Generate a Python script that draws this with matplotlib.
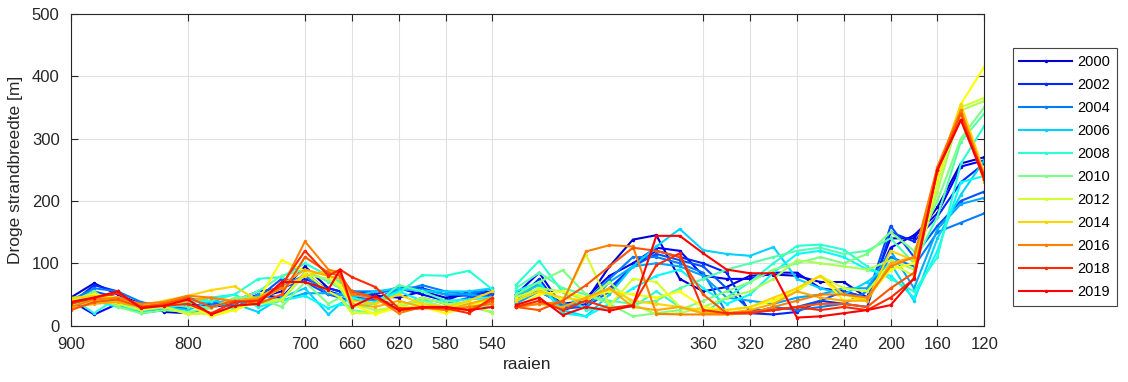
import numpy as np
import matplotlib
matplotlib.use("Agg")
import matplotlib.pyplot as plt

# raai positions (NaN gap at 530)
raai_left = [900, 880, 860, 840, 820, 800, 780, 760, 740, 720, 700, 680, 670, 660, 640, 620, 600, 580, 560, 540]
raai_gap = [530]
raai_right = [520, 500, 480, 460, 440, 420, 400, 380, 360, 340, 320, 300, 280, 260, 240, 220, 200, 180, 160, 140, 120]

years = list(range(2000, 2020))
legend_years = [2000, 2002, 2004, 2006, 2008, 2010, 2012, 2014, 2016, 2018, 2019]

x_ticks = [900, 800, 700, 660, 620, 580, 540, 360, 320, 280, 240, 200, 160, 120]
y_ticks = [0, 100, 200, 300, 400, 500]

# dry beach width [m], left section (900 -> 540)
left_2000 = [45, 68, 50, 35, 22, 20, 30, 40, 45, 55, 95, 60, 55, 50, 48, 45, 55, 45, 50, 55]
left_2001 = [40, 18, 35, 22, 25, 35, 30, 35, 50, 45, 85, 55, 50, 45, 42, 60, 50, 40, 55, 52]
left_2002 = [35, 65, 55, 25, 28, 30, 35, 40, 55, 60, 75, 60, 55, 55, 50, 62, 60, 50, 48, 55]
left_2003 = [42, 55, 45, 35, 30, 28, 40, 30, 45, 75, 70, 50, 45, 40, 45, 30, 45, 35, 45, 50]
left_2004 = [40, 60, 55, 38, 30, 45, 35, 30, 45, 65, 80, 50, 50, 55, 55, 55, 65, 55, 50, 60]
left_2005 = [30, 45, 35, 20, 25, 40, 45, 25, 50, 40, 52, 52, 50, 45, 40, 58, 58, 50, 50, 45]
left_2006 = [38, 50, 40, 22, 30, 25, 40, 35, 22, 45, 60, 18, 35, 45, 55, 60, 55, 55, 55, 60]
left_2007 = [35, 40, 30, 25, 28, 35, 45, 50, 30, 40, 48, 28, 35, 30, 38, 55, 40, 40, 42, 45]
left_2008 = [45, 20, 45, 30, 32, 38, 40, 50, 75, 78, 100, 80, 70, 45, 35, 52, 81, 80, 88, 58]
left_2009 = [40, 50, 40, 28, 35, 30, 30, 40, 55, 80, 90, 70, 60, 30, 35, 65, 55, 40, 35, 30]
left_2010 = [38, 55, 30, 20, 25, 22, 28, 45, 45, 30, 70, 35, 45, 25, 20, 30, 40, 30, 30, 22]
left_2011 = [45, 45, 40, 30, 30, 20, 20, 30, 35, 40, 82, 75, 60, 35, 25, 30, 45, 35, 35, 20]
left_2012 = [32, 40, 35, 25, 30, 18, 20, 25, 40, 42, 85, 55, 45, 20, 20, 35, 35, 30, 35, 40]
left_2013 = [42, 50, 45, 28, 35, 35, 15, 25, 40, 105, 88, 80, 65, 35, 18, 30, 30, 20, 30, 45]
left_2014 = [44, 48, 40, 32, 40, 48, 57, 63, 40, 60, 80, 88, 85, 40, 35, 50, 35, 30, 40, 55]
left_2015 = [28, 35, 38, 30, 35, 40, 45, 40, 45, 65, 90, 80, 75, 35, 30, 40, 30, 25, 35, 45]
left_2016 = [30, 42, 45, 35, 38, 48, 45, 38, 42, 60, 135, 90, 85, 50, 45, 20, 30, 25, 30, 35]
left_2017 = [25, 38, 42, 30, 35, 45, 30, 40, 35, 50, 110, 85, 80, 55, 45, 25, 28, 30, 25, 40]
left_2018 = [35, 45, 52, 30, 32, 35, 20, 38, 40, 65, 120, 80, 90, 78, 62, 28, 28, 28, 20, 45]
left_2019 = [38, 45, 55, 28, 32, 42, 18, 32, 35, 70, 70, 58, 90, 30, 48, 25, 30, 30, 25, 30]

# right section (520 -> 120)
right_2000 = [45, 55, 35, 40, 95, 138, 145, 75, 55, 62, 80, 82, 80, 70, 70, 45, 140, 140, 190, 260, 270]
right_2001 = [50, 85, 30, 45, 80, 100, 125, 120, 80, 75, 75, 85, 85, 60, 55, 45, 125, 145, 180, 255, 265]
right_2002 = [40, 75, 25, 35, 60, 95, 120, 110, 100, 85, 20, 18, 22, 40, 35, 30, 150, 135, 175, 230, 260]
right_2003 = [38, 70, 28, 30, 55, 95, 115, 105, 95, 60, 25, 25, 30, 40, 55, 45, 160, 110, 160, 200, 215]
right_2004 = [42, 60, 30, 40, 75, 110, 110, 100, 85, 20, 20, 30, 25, 30, 35, 55, 110, 95, 150, 165, 180]
right_2005 = [35, 55, 35, 30, 70, 95, 100, 95, 80, 45, 40, 35, 45, 50, 60, 60, 120, 60, 155, 195, 205]
right_2006 = [48, 65, 25, 15, 50, 95, 127, 155, 121, 115, 112, 126, 75, 60, 50, 70, 100, 40, 140, 210, 265]
right_2007 = [55, 70, 20, 15, 35, 60, 80, 90, 60, 35, 50, 85, 115, 120, 110, 90, 80, 45, 120, 230, 240]
right_2008 = [65, 104, 54, 25, 30, 30, 55, 30, 20, 45, 70, 100, 128, 130, 122, 95, 75, 55, 110, 260, 320]
right_2009 = [60, 85, 60, 50, 40, 35, 40, 60, 75, 90, 100, 110, 120, 125, 115, 120, 140, 100, 175, 295, 340]
right_2010 = [50, 70, 89, 50, 35, 15, 20, 25, 40, 55, 70, 90, 100, 110, 100, 115, 150, 120, 200, 300, 350]
right_2011 = [40, 60, 55, 40, 70, 35, 18, 20, 30, 45, 55, 75, 105, 100, 95, 90, 105, 90, 215, 345, 360]
right_2012 = [45, 60, 40, 114, 32, 75, 70, 30, 20, 25, 30, 40, 55, 80, 60, 55, 100, 80, 230, 350, 365]
right_2013 = [30, 50, 55, 45, 55, 50, 45, 55, 30, 25, 30, 40, 60, 80, 40, 45, 90, 100, 240, 355, 415]
right_2014 = [40, 55, 45, 40, 60, 40, 35, 30, 25, 25, 30, 45, 60, 80, 50, 40, 120, 105, 245, 355, 245]
right_2015 = [30, 35, 30, 45, 60, 30, 25, 30, 20, 20, 25, 35, 55, 45, 40, 40, 100, 110, 250, 345, 230]
right_2016 = [30, 35, 38, 119, 129, 127, 19, 18, 18, 18, 20, 30, 40, 50, 50, 45, 95, 110, 255, 345, 240]
right_2017 = [30, 25, 40, 65, 95, 125, 120, 110, 50, 20, 22, 25, 30, 35, 35, 30, 60, 85, 250, 340, 235]
right_2018 = [30, 40, 25, 40, 28, 33, 97, 116, 25, 20, 20, 25, 30, 25, 30, 25, 45, 75, 250, 330, 240]
right_2019 = [33, 45, 17, 30, 24, 32, 144, 144, 116, 90, 84, 84, 13, 15, 20, 25, 33, 76, 250, 330, 235]

left = {2000: left_2000, 2001: left_2001, 2002: left_2002, 2003: left_2003, 2004: left_2004,
        2005: left_2005, 2006: left_2006, 2007: left_2007, 2008: left_2008, 2009: left_2009,
        2010: left_2010, 2011: left_2011, 2012: left_2012, 2013: left_2013, 2014: left_2014,
        2015: left_2015, 2016: left_2016, 2017: left_2017, 2018: left_2018, 2019: left_2019}
right = {2000: right_2000, 2001: right_2001, 2002: right_2002, 2003: right_2003, 2004: right_2004,
         2005: right_2005, 2006: right_2006, 2007: right_2007, 2008: right_2008, 2009: right_2009,
         2010: right_2010, 2011: right_2011, 2012: right_2012, 2013: right_2013, 2014: right_2014,
         2015: right_2015, 2016: right_2016, 2017: right_2017, 2018: right_2018, 2019: right_2019}


def matlab_jet(t):
    r = min(max(1.5 - abs(4 * t - 3), 0), 1)
    g = min(max(1.5 - abs(4 * t - 2), 0), 1)
    b = min(max(1.5 - abs(4 * t - 1), 0), 1)
    return (r, g, b)


plt.rcParams['font.family'] = ['Liberation Sans', 'DejaVu Sans']

fig = plt.figure(figsize=(11.28, 3.82), dpi=100)
ax = fig.add_axes([0.0627, 0.1474, 0.8099, 0.8167])

x_all = raai_left + raai_gap + raai_right
axcol = '#262626'
for yr in years:
    t = 0.08 + (yr - 2000) / 19 * 0.795
    col = matlab_jet(t)
    y_all = left[yr] + [np.nan] + right[yr]
    lab = str(yr) if yr in legend_years else '_nolegend_'
    ax.plot(x_all, y_all, '-', marker='.', markersize=3, color=col, lw=1.5, label=lab)

ax.set_xlim(900, 120)
ax.set_ylim(0, 500)
ax.set_xticks(x_ticks)
ax.set_yticks(y_ticks)
ax.grid(True, color='#e0e0e0', lw=0.8)
ax.set_axisbelow(True)
ax.tick_params(direction='in', top=True, right=True, length=5, width=0.8, colors=axcol,
               labelsize=12, pad=8)
for s in ax.spines.values():
    s.set_color(axcol)
    s.set_linewidth(0.8)
ax.set_xlabel('raaien', fontsize=12.5, color=axcol, labelpad=4)
ax.set_ylabel('Droge strandbreedte [m]', fontsize=12.5, color=axcol, labelpad=6)

leg = ax.legend(loc='upper left', bbox_to_anchor=(1012.7 / 1128, 1 - 48.3 / 382),
                bbox_transform=fig.transFigure, borderaxespad=0, fontsize=10.5,
                handlelength=3.6, handletextpad=0.4, labelspacing=0.62, borderpad=0.45,
                fancybox=False, framealpha=1, edgecolor='#444444')
leg.get_frame().set_linewidth(0.8)

fig.savefig('out.png', dpi=100)
